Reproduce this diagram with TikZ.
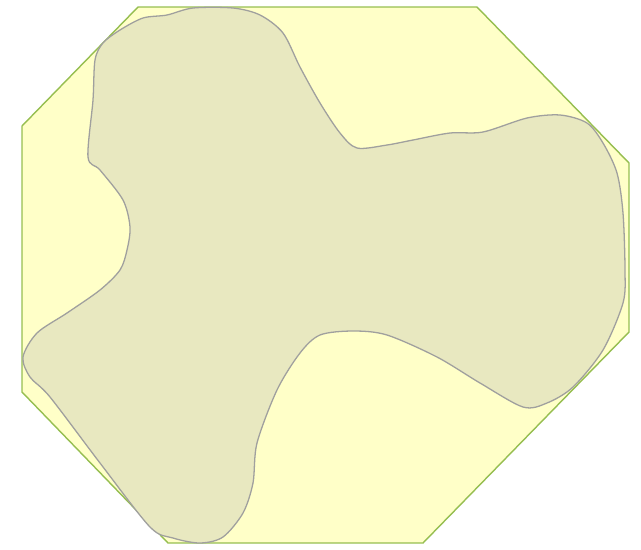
\documentclass[tikz,border=0pt]{standalone}
\usepackage{tikz}
\usepackage{xcolor}
\definecolor{hullyellow}{RGB}{255,255,200}
\definecolor{hullgreen}{RGB}{150,190,80}
\definecolor{blobfill}{RGB}{232,232,192}
\definecolor{blobgray}{RGB}{160,160,158}
\begin{document}
\begin{tikzpicture}[x=0.03cm,y=-0.03cm]
  \useasboundingbox (0,0) rectangle (641,549);
  % octagon hull
  \coordinate (A) at (138,7);
  \coordinate (B) at (477,7);
  \coordinate (C) at (629,163);
  \coordinate (D) at (629,332);
  \coordinate (E) at (423,543);
  \coordinate (F) at (168,543);
  \coordinate (G) at (22,392);
  \coordinate (H) at (22,126);
  \draw[hullgreen,fill=hullyellow,line width=1.2pt,line join=round]
    (A)--(B)--(C)--(D)--(E)--(F)--(G)--(H)--cycle;
  % blob
  \draw[blobgray,fill=blobfill,line width=1.1pt,line join=round]
    plot[smooth cycle,tension=0.5] coordinates {
      (193,8) (233,8) (260,15) (283,33) (300,67) (320,103) (340,133)
      (357,148) (387,145) (413,140) (450,133) (483,132) (527,118)
      (560,115) (587,123) (603,143) (617,173) (623,213) (625,270)
      (623,303) (603,350) (573,387) (547,403) (523,407) (480,383)
      (437,357) (387,335) (353,331) (320,335) (300,353) (277,390)
      (257,443) (253,483) (243,513) (223,537) (200,543) (173,538)
      (150,527) (100,463) (50,397) (30,377) (23,357) (37,333)
      (67,313) (100,290) (120,270) (127,250) (130,227) (123,200)
      (100,170) (88,157) (93,100) (95,60) (103,43) (120,30)
      (143,18) (167,15)};
\end{tikzpicture}
\end{document}
